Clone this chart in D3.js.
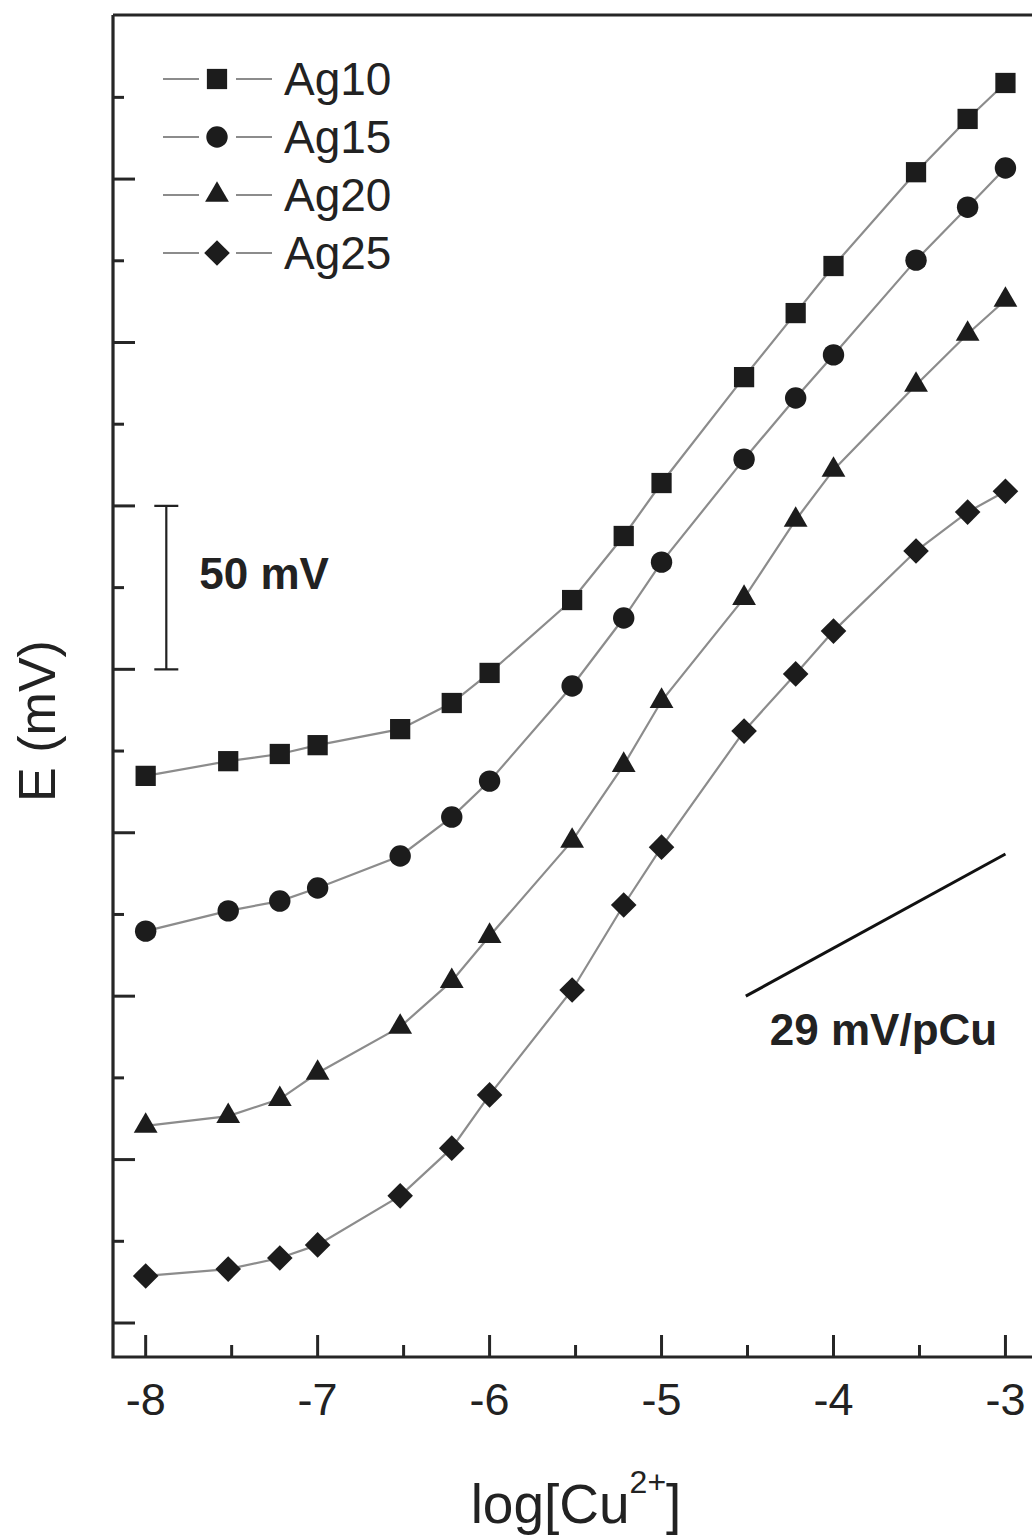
<!DOCTYPE html>
<html>
<head>
<meta charset="utf-8">
<script src="https://cdn.jsdelivr.net/npm/d3@7"></script>
<style>
  body { margin: 0; background: #fff; }
  svg { display: block; font-family: "Liberation Sans", Arial, sans-serif; }
</style>
</head>
<body>
<div id="chart"></div>
<script>
// log[Cu2+] for 1, 3, 6 x 10^n steps
var logCu = [-8, -7.52, -7.22, -7, -6.52, -6.22, -6, -5.52, -5.22, -5, -4.52, -4.22, -4, -3.52, -3.22, -3];

// potentials in mV (arbitrary offset, curves shifted as in the figure)
var ag10 = [167.4, 171.9, 174.1, 176.8, 181.7, 189.7, 198.9, 221.2, 240.8, 257.0, 289.4, 309.0, 323.4, 352.1, 368.4, 379.4];
var ag15 = [119.9, 126.1, 129.1, 133.1, 142.9, 154.8, 165.8, 194.9, 215.7, 232.8, 264.3, 283.0, 296.2, 325.2, 341.4, 353.4];
var ag20 = [60.3, 63.3, 68.5, 76.5, 90.6, 104.6, 118.4, 147.5, 170.7, 190.3, 221.8, 245.7, 261.0, 287.0, 302.6, 313.0];
var ag25 = [14.4, 16.5, 19.9, 23.9, 38.9, 53.5, 69.8, 101.9, 127.9, 145.6, 181.1, 198.6, 211.7, 236.2, 248.1, 254.5];

var seriesNames = ["Ag10", "Ag15", "Ag20", "Ag25"];
var seriesValues = [ag10, ag15, ag20, ag25];
var seriesSymbols = ["square", "circle", "triangle", "diamond"];

var xMajorTicks = [-8, -7, -6, -5, -4, -3];
var xMinorTicks = [-7.5, -6.5, -5.5, -4.5, -3.5];
var yMajorTicks = [0, 50, 100, 150, 200, 250, 300, 350];
var yMinorTicks = [25, 75, 125, 175, 225, 275, 325, 375];

// annotations
var scaleBar = { x: -7.88, from: 200, to: 250, label: "50 mV" };
var slopeLine = { x: [-4.51, -3.0], y: [100, 143.5], label: "29 mV/pCu" };

var width = 1032;
var height = 1537;
var plot = { left: 113, top: 15, right: 1045, bottom: 1357 };

var x = d3.scaleLinear().domain([-8.19, -2.77]).range([plot.left, plot.right]);
var y = d3.scaleLinear().domain([-10.4, 400.2]).range([plot.bottom, plot.top]);

var svg = d3.select("#chart").append("svg")
    .attr("width", width)
    .attr("height", height);

svg.append("rect").attr("width", width).attr("height", height).attr("fill", "#fff");

var ink = "#1c1c1c";
var lineGrey = "#8c8c8c";

function symbolPath(kind) {
    if (kind === "square") return d3.symbol(d3.symbolSquare, 410)();
    if (kind === "circle") return d3.symbol(d3.symbolCircle, 360)();
    if (kind === "triangle") return d3.symbol(d3.symbolTriangle, 245)();
    // diamond drawn as a square turned 45 degrees
    var h = 12.8;
    return "M0," + (-h) + "L" + h + ",0L0," + h + "L" + (-h) + ",0Z";
}

// series lines
var line = d3.line()
    .x(function(d) { return x(d[0]); })
    .y(function(d) { return y(d[1]); });

seriesValues.forEach(function(vals, i) {
    var pts = logCu.map(function(lx, j) { return [lx, vals[j]]; });
    svg.append("path")
        .datum(pts)
        .attr("d", line)
        .attr("fill", "none")
        .attr("stroke", lineGrey)
        .attr("stroke-width", 2.2);
});

// markers
seriesValues.forEach(function(vals, i) {
    var pts = logCu.map(function(lx, j) { return [lx, vals[j]]; });
    svg.append("g").selectAll("path")
        .data(pts)
        .enter()
        .append("path")
        .attr("d", symbolPath(seriesSymbols[i]))
        .attr("transform", function(d) { return "translate(" + x(d[0]) + "," + y(d[1]) + ")"; })
        .attr("fill", ink);
});

// frame
var axisColor = "#262626";
svg.append("path")
    .attr("d", "M" + plot.left + "," + plot.top + "H" + plot.right + "M" + plot.left + "," + plot.top +
        "V" + plot.bottom + "H" + plot.right)
    .attr("fill", "none")
    .attr("stroke", axisColor)
    .attr("stroke-width", 3.2);

// x ticks (inward)
svg.append("g").selectAll("line")
    .data(xMajorTicks.map(function(t) { return [t, 22]; }).concat(xMinorTicks.map(function(t) { return [t, 12]; })))
    .enter().append("line")
    .attr("x1", function(d) { return x(d[0]); })
    .attr("x2", function(d) { return x(d[0]); })
    .attr("y1", plot.bottom)
    .attr("y2", function(d) { return plot.bottom - d[1]; })
    .attr("stroke", axisColor)
    .attr("stroke-width", 3);

svg.append("g").selectAll("text")
    .data(xMajorTicks)
    .enter().append("text")
    .attr("x", function(d) { return x(d); })
    .attr("y", 1415)
    .attr("text-anchor", "middle")
    .attr("font-size", 45)
    .attr("fill", "#222")
    .text(function(d) { return String(d); });

// y ticks (inward, no labels)
svg.append("g").selectAll("line")
    .data(yMajorTicks.map(function(t) { return [t, 22]; }).concat(yMinorTicks.map(function(t) { return [t, 11]; })))
    .enter().append("line")
    .attr("x1", plot.left)
    .attr("x2", function(d) { return plot.left + d[1]; })
    .attr("y1", function(d) { return y(d[0]); })
    .attr("y2", function(d) { return y(d[0]); })
    .attr("stroke", axisColor)
    .attr("stroke-width", 3);

// axis titles
var xTitle = svg.append("text")
    .attr("x", 576)
    .attr("y", 1523)
    .attr("text-anchor", "middle")
    .attr("font-size", 55)
    .attr("fill", "#222");
xTitle.append("tspan").text("log[Cu");
xTitle.append("tspan").attr("font-size", 32).attr("dy", -30).text("2+");
xTitle.append("tspan").attr("dy", 30).text("]");

svg.append("text")
    .attr("transform", "translate(55,721) rotate(-90)")
    .attr("text-anchor", "middle")
    .attr("font-size", 52)
    .attr("fill", "#222")
    .text("E (mV)");

// scale bar
var sbx = x(scaleBar.x);
svg.append("path")
    .attr("d", "M" + (sbx - 12) + "," + y(scaleBar.to) + "H" + (sbx + 12) +
        "M" + sbx + "," + y(scaleBar.to) + "V" + y(scaleBar.from) +
        "M" + (sbx - 12) + "," + y(scaleBar.from) + "H" + (sbx + 12))
    .attr("fill", "none")
    .attr("stroke", "#222")
    .attr("stroke-width", 2.2);
svg.append("text")
    .attr("x", sbx + 33)
    .attr("y", (y(scaleBar.to) + y(scaleBar.from)) / 2 + 1)
    .attr("font-size", 44)
    .attr("font-weight", "bold")
    .attr("fill", "#222")
    .text(scaleBar.label);

// slope reference line
svg.append("line")
    .attr("x1", x(slopeLine.x[0])).attr("y1", y(slopeLine.y[0]))
    .attr("x2", x(slopeLine.x[1])).attr("y2", y(slopeLine.y[1]))
    .attr("stroke", "#111")
    .attr("stroke-width", 3);
svg.append("text")
    .attr("x", x(slopeLine.x[0]) + 24)
    .attr("y", y(slopeLine.y[0]) + 49)
    .attr("font-size", 44)
    .attr("font-weight", "bold")
    .attr("fill", "#222")
    .text(slopeLine.label);

// legend
var legend = svg.append("g");
seriesNames.forEach(function(name, i) {
    var cy = 79 + i * 58;
    legend.append("line")
        .attr("x1", 163).attr("x2", 199).attr("y1", cy).attr("y2", cy)
        .attr("stroke", lineGrey).attr("stroke-width", 2.2);
    legend.append("line")
        .attr("x1", 236).attr("x2", 272).attr("y1", cy).attr("y2", cy)
        .attr("stroke", lineGrey).attr("stroke-width", 2.2);
    legend.append("path")
        .attr("d", symbolPath(seriesSymbols[i]))
        .attr("transform", "translate(217," + cy + ")")
        .attr("fill", ink);
    legend.append("text")
        .attr("x", 284)
        .attr("y", cy + 16)
        .attr("font-size", 46)
        .attr("fill", "#222")
        .text(name);
});
</script>
</body>
</html>
